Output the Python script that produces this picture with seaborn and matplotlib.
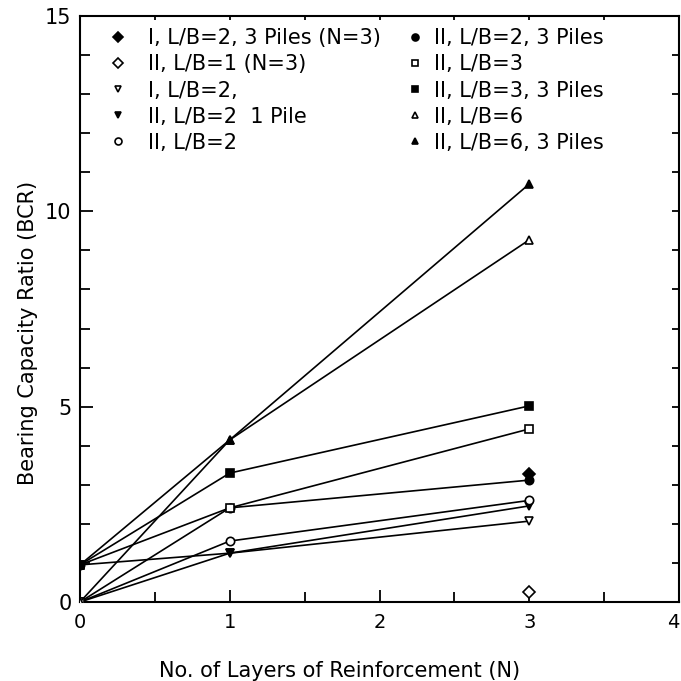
import matplotlib
matplotlib.use("Agg")
import matplotlib.pyplot as plt
from matplotlib.lines import Line2D
import seaborn as sns
import pandas as pd

# ---- data ----
layers = [0, 1, 3]
bcr_L6_3p = [0.95, 4.15, 10.70]    # II, L/B=6, 3 Piles
bcr_L6 = [0.0, 4.15, 9.27]         # II, L/B=6
bcr_L3_3p = [0.95, 3.30, 5.02]     # II, L/B=3, 3 Piles
bcr_L3 = [0.0, 2.41, 4.43]         # II, L/B=3
bcr_L2_3p = [0.95, 2.41, 3.12]     # II, L/B=2, 3 Piles
bcr_L2 = [0.0, 1.56, 2.60]         # II, L/B=2
bcr_L2_1p = [0.95, 1.25, 2.46]     # II, L/B=2 1 Pile
bcr_I_L2 = [0.0, 1.25, 2.07]       # I, L/B=2,
single_N = [3]
bcr_I_L2_3p = [3.28]               # I, L/B=2, 3 Piles (N=3)
bcr_L1 = [0.26]                    # II, L/B=1 (N=3)

labels = [
    "I, L/B=2, 3 Piles (N=3)",
    "II, L/B=1 (N=3)",
    "I, L/B=2,",
    "II, L/B=2  1 Pile",
    "II, L/B=2",
    "II, L/B=2, 3 Piles",
    "II, L/B=3",
    "II, L/B=3, 3 Piles",
    "II, L/B=6",
    "II, L/B=6, 3 Piles",
]
series_x = [single_N, single_N, layers, layers, layers, layers, layers, layers, layers, layers]
series_y = [bcr_I_L2_3p, bcr_L1, bcr_I_L2, bcr_L2_1p, bcr_L2, bcr_L2_3p, bcr_L3, bcr_L3_3p, bcr_L6, bcr_L6_3p]
markers = ["D", "D", "v", "v", "o", "o", "s", "s", "^", "^"]
filled = [True, False, False, True, False, True, False, True, False, True]

x_ticks = [0, 1, 2, 3, 4]
y_ticks = [0, 5, 10, 15]

sns.set_style("ticks")
plt.rcParams["font.family"] = ["DejaVu Sans"]
plt.rcParams["text.color"] = "black"
plt.rcParams["axes.labelcolor"] = "black"
plt.rcParams["xtick.color"] = "black"
plt.rcParams["ytick.color"] = "black"

fig = plt.figure(figsize=(6.81, 6.81), dpi=100)
ax = fig.add_axes([80 / 681, 79 / 681, 599 / 681, 586 / 681])

for xs, ys, m, f, lab in zip(series_x, series_y, markers, filled, labels):
    df = pd.DataFrame({"N": xs, "BCR": ys})
    ms = 6 if m != "D" else 6.5
    sns.lineplot(data=df, x="N", y="BCR", ax=ax, color="black", linewidth=1.2,
                 marker=m, markersize=ms, markeredgecolor="black",
                 markerfacecolor="black" if f else "white", markeredgewidth=1.2,
                 legend=False, zorder=3)

ax.set_xlim(0, 4)
ax.set_ylim(0, 15)
ax.set_xticks(x_ticks)
ax.set_yticks(y_ticks)
ax.set_xticks([0.5, 1.5, 2.5, 3.5], minor=True)
ax.set_yticks([1, 2, 3, 4, 6, 7, 8, 9, 11, 12, 13, 14], minor=True)
ax.tick_params(axis="both", which="major", direction="in", length=9, width=1.3,
               labelsize=14, pad=8, top=False, right=False, colors="black")
ax.tick_params(axis="both", which="minor", direction="in", length=7, width=1.3,
               top=False, right=False, colors="black")
ax.tick_params(axis="x", which="both", top=True, labeltop=False)
ax.tick_params(axis="y", which="both", right=True, labelright=False)
ax.tick_params(axis="y", which="major", pad=6, labelsize=15)
# shorter ticks on the right and top spines
for t in ax.yaxis.get_major_ticks() + ax.yaxis.get_minor_ticks():
    t.tick2line.set_markersize(5)
for t in ax.xaxis.get_major_ticks() + ax.xaxis.get_minor_ticks():
    t.tick2line.set_markersize(3)
for sp in ax.spines.values():
    sp.set_linewidth(1.5)
    sp.set_color("black")

# keep the last x tick label inside the figure
xt_labels = ax.get_xticklabels()
xt_labels[-1].set_horizontalalignment("right")

ax.set_xlabel("No. of Layers of Reinforcement (N)", fontsize=15, color="black")
ax.set_ylabel("Bearing Capacity Ratio (BCR)", fontsize=15, color="black")
ax.xaxis.set_label_coords(0.434, -0.1)
ax.yaxis.set_label_coords(-0.07, 0.46)

handles = []
for m, f, lab in zip(markers, filled, labels):
    handles.append(Line2D([], [], linestyle="none", marker=m, markersize=5,
                          color="black", markeredgecolor="black",
                          markerfacecolor="black" if f else "white",
                          markeredgewidth=1.2, label=lab))
leg1 = ax.legend(handles=handles[:5], frameon=False, loc="upper left",
                 bbox_to_anchor=(0.0287, 0.993), fontsize=15, labelspacing=0.29,
                 handletextpad=0.85, handlelength=1.2, borderaxespad=0.0,
                 labelcolor="black")
ax.add_artist(leg1)
ax.legend(handles=handles[5:], frameon=False, loc="upper left",
          bbox_to_anchor=(0.5245, 0.993), fontsize=15, labelspacing=0.29,
          handletextpad=0.3, handlelength=1.2, borderaxespad=0.0,
          labelcolor="black")

fig.savefig("out.png", dpi=100)
